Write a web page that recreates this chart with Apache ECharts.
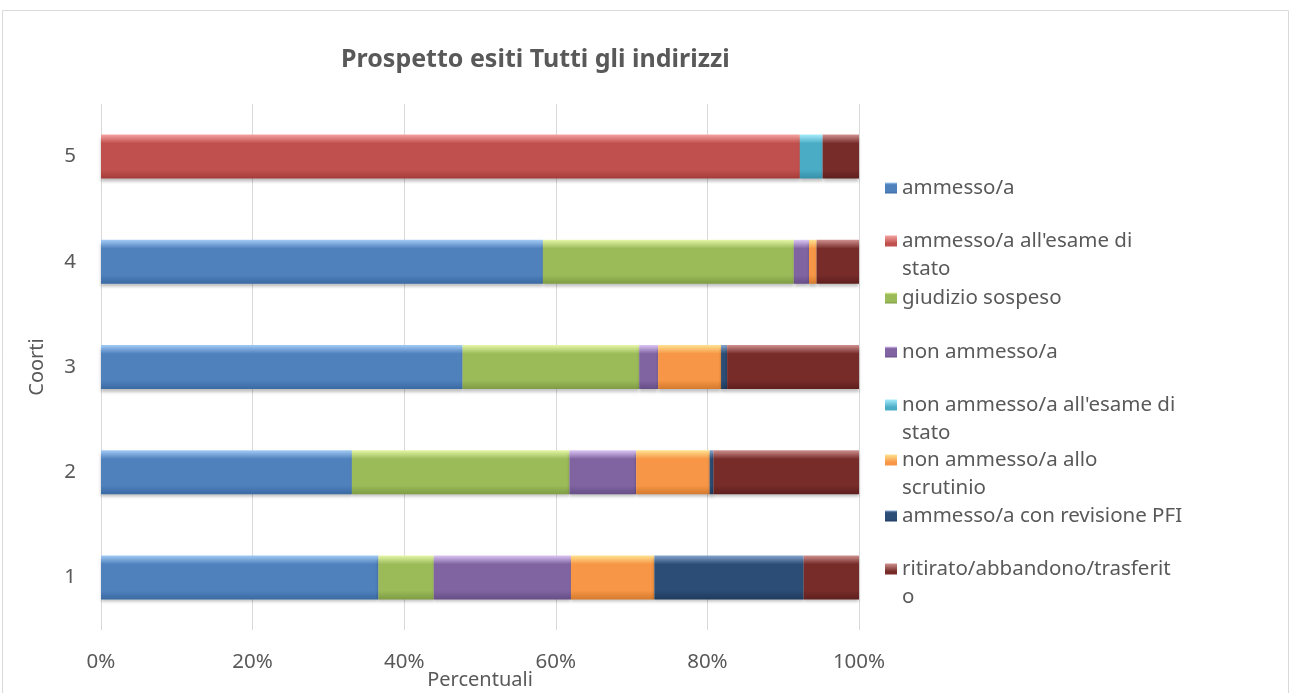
<!DOCTYPE html>
<html>
<head>
<meta charset="utf-8">
<script src="https://cdn.jsdelivr.net/npm/echarts@6/dist/echarts.min.js"></script>
<style>
  html, body { margin: 0; padding: 0; background: #fff; }
  #chart { width: 1290px; height: 693px; }
</style>
</head>
<body>
<div id="chart"></div>
<script>
  // dati (percentuali per coorte 1..5)
  var coorti = ['1', '2', '3', '4', '5'];
  var ticks = ['0%', '20%', '40%', '60%', '80%', '100%'];

  var ammesso        = [36.6, 33.1, 47.7, 58.3, 0];
  var ammessoEsame   = [0, 0, 0, 0, 92.2];
  var giudizio       = [7.3, 28.7, 23.3, 33.1, 0];
  var nonAmmesso     = [18.1, 8.8, 2.5, 2.0, 0];
  var nonAmmEsame    = [0, 0, 0, 0, 3.0];
  var nonAmmScrut    = [11.0, 9.7, 8.3, 1.0, 0];
  var revisionePFI   = [19.7, 0.5, 0.8, 0, 0];
  var ritirato       = [7.3, 19.2, 17.4, 5.6, 4.8];

  var nomi = [
    'ammesso/a',
    "ammesso/a all'esame di stato",
    'giudizio sospeso',
    'non ammesso/a',
    "non ammesso/a all'esame di stato",
    'non ammesso/a allo scrutinio',
    'ammesso/a con revisione PFI',
    'ritirato/abbandono/trasferito'
  ];
  // testo della legenda a capo come nell'originale
  var etichette = {
    "ammesso/a all'esame di stato": "ammesso/a all'esame di\nstato",
    "non ammesso/a all'esame di stato": "non ammesso/a all'esame di\nstato",
    'non ammesso/a allo scrutinio': 'non ammesso/a allo\nscrutinio',
    'ritirato/abbandono/trasferito': 'ritirato/abbandono/trasferit\no'
  };
  var valori = [ammesso, ammessoEsame, giudizio, nonAmmesso, nonAmmEsame, nonAmmScrut, revisionePFI, ritirato];
  var colori = [
    ['#a3cbf5', '#4f81bd', '#3a6aa3'],
    ['#f5a3a1', '#c0504d', '#a43c3a'],
    ['#e6f7a8', '#9bbb59', '#7f9c44'],
    ['#dcc6f5', '#8064a2', '#674e87'],
    ['#a3ecfa', '#4bacc6', '#3690a8'],
    ['#ffe391', '#f79646', '#d47a2e'],
    ['#86a6cf', '#2c4d75', '#1f3a5c'],
    ['#cf918f', '#772c2a', '#5e1f1d']
  ];

  var chart = echarts.init(document.getElementById('chart'));

  var series = nomi.map(function (n, i) {
    var c = colori[i];
    return {
      name: n,
      type: 'bar',
      stack: 'tot',
      barWidth: 44,
      data: valori[i],
      itemStyle: {
        color: new echarts.graphic.LinearGradient(0, 0, 0, 1, [
          { offset: 0, color: c[0] },
          { offset: 0.2, color: c[1] },
          { offset: 0.8, color: c[1] },
          { offset: 1, color: c[2] }
        ]),
        shadowColor: 'rgba(0,0,0,0.25)',
        shadowBlur: 3,
        shadowOffsetY: 3
      }
    };
  });

  // icona: quadratino in alto, cosi' la prima riga del testo resta allineata
  var iconaAlta = 'path://M0,0L12,0L12,11L0,11Z M0,39L12,39';
  var centri = [186, 241, 296, 350, 405, 460, 514, 569];
  var legende = nomi.map(function (n, i) {
    var multi = etichette[n] ? true : false;
    return {
      data: [{ name: n, icon: multi ? iconaAlta : 'rect' }],
      orient: 'vertical',
      left: 880,
      top: multi ? centri[i] - 19 : centri[i] - 17,
      itemWidth: 12,
      itemHeight: multi ? 39 : 11,
      selectedMode: false,
      formatter: function (name) { return etichette[name] || name; },
      textStyle: {
        fontFamily: 'Noto Sans',
        fontSize: 20.5,
        color: '#595959',
        lineHeight: 28
      }
    };
  });

  chart.setOption({
    animation: false,
    color: colori.map(function (c) { return c[1]; }),
    title: {
      text: 'Prospetto esiti Tutti gli indirizzi',
      left: 336,
      top: 42,
      textStyle: {
        fontFamily: 'Noto Sans',
        fontSize: 25,
        fontWeight: 'bold',
        color: '#595959'
      }
    },
    graphic: [{
      type: 'rect',
      shape: { x: 2.5, y: 10.5, width: 1286, height: 700 },
      style: { fill: 'none', stroke: '#d9d9d9', lineWidth: 1 },
      silent: true
    }],
    legend: legende,
    grid: {
      left: 101,
      right: 431,
      top: 104,
      bottom: 63,
      outerBoundsMode: 'none'
    },
    xAxis: {
      type: 'value',
      min: 0,
      max: 100,
      interval: 20,
      name: 'Percentuali',
      nameLocation: 'middle',
      nameGap: 40,
      nameMoveOverlap: false,
      nameTextStyle: { fontFamily: 'Noto Sans', fontSize: 20, color: '#595959' },
      axisLine: { show: false },
      axisTick: { show: false },
      axisLabel: {
        fontFamily: 'Noto Sans',
        fontSize: 20.5,
        color: '#595959',
        margin: 22,
        formatter: function (v) { return ticks[Math.round(v / 20)]; }
      },
      splitLine: { lineStyle: { color: '#d9d9d9' } }
    },
    yAxis: {
      type: 'category',
      data: coorti,
      name: 'Coorti',
      nameLocation: 'middle',
      nameGap: 54,
      nameMoveOverlap: false,
      nameTextStyle: { fontFamily: 'Noto Sans', fontSize: 20, color: '#595959' },
      axisLine: { show: false },
      axisTick: { show: false },
      axisLabel: {
        fontFamily: 'Noto Sans',
        fontSize: 20.5,
        color: '#595959',
        margin: 25
      }
    },
    series: series
  });
</script>
</body>
</html>
